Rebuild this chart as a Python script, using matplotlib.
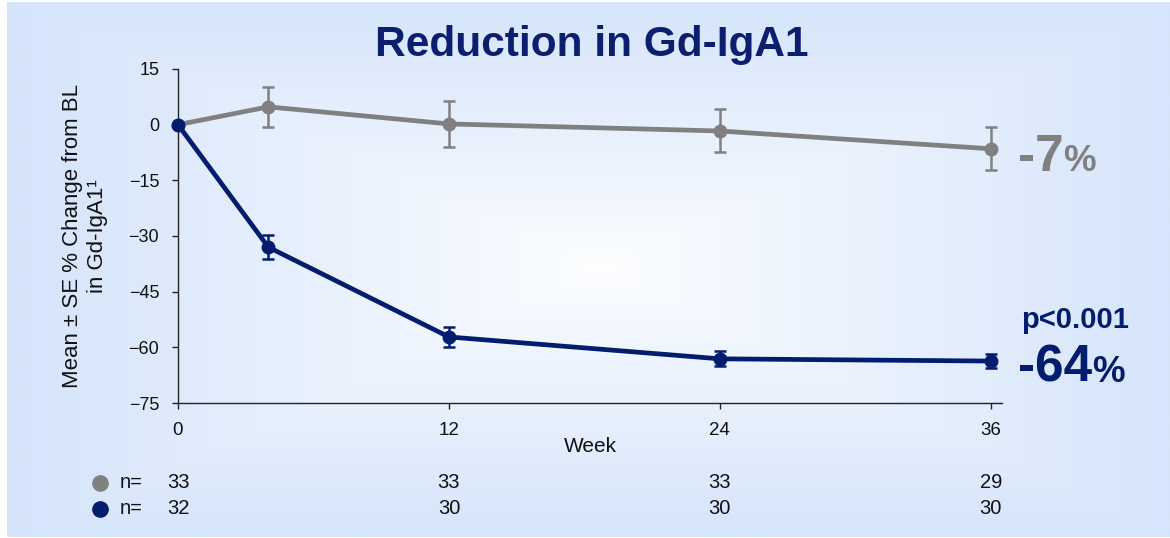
import numpy as np
import matplotlib
matplotlib.use('Agg')
import matplotlib.pyplot as plt
from matplotlib.lines import Line2D
from matplotlib.transforms import blended_transform_factory

# ---- data ----
weeks = [0, 4, 12, 24, 36]
placebo_mean = [0, 4.8, 0.2, -1.7, -6.5]
placebo_se = [0, 5.4, 6.2, 5.8, 5.8]
active_mean = [0, -33.0, -57.2, -63.1, -63.7]
active_se = [0, 3.3, 2.7, 2.0, 2.0]
n_weeks = [0, 12, 24, 36]
placebo_n = [33, 33, 33, 29]
active_n = [32, 30, 30, 30]
yticks = [15, 0, -15, -30, -45, -60, -75]
xticks = [0, 12, 24, 36]
title = "Reduction in Gd-IgA1"
placebo_label = "-7"
active_label = "-64"
p_label = "p<0.001"

GRAY = '#808080'
NAVY = '#021c6e'
TITLE = '#0b1f6e'
TXT = '#111111'

plt.rcParams['font.family'] = ['Liberation Sans', 'DejaVu Sans']

W, H = 1170, 538
fig = plt.figure(figsize=(W / 100, H / 100), dpi=100)
fig.patch.set_facecolor('white')

# ---- background gradient panel ----
bg = fig.add_axes([0, 0, 1, 1], zorder=-10)
bg.set_xlim(0, W)
bg.set_ylim(H, 0)
bg.axis('off')
px0, px1, py0, py1 = 7, 1170, 2, 537
xx, yy = np.meshgrid(np.linspace(px0, px1, 400), np.linspace(py0, py1, 200))
cx, cy = 600, 270
t = np.maximum(np.abs(xx - cx) / (px1 - cx), np.abs(yy - cy) / (py1 - cy))
t = np.clip(t, 0, 1) ** 0.9
center = np.array([253, 254, 255]) / 255
edge = np.array([214, 229, 251]) / 255
img = center[None, None, :] + (edge - center)[None, None, :] * t[:, :, None]
bg.imshow(img, extent=[px0, px1, py1, py0], aspect='auto', interpolation='bilinear')

# ---- main axes ----
ax = fig.add_axes([178 / W, 1 - 403 / H, (1002 - 178) / W, (403 - 69) / H])
ax.patch.set_alpha(0)
ax.set_xlim(0, 36.5)
ax.set_ylim(-75, 15)
for s in ['top', 'right']:
    ax.spines[s].set_visible(False)
for s in ['left', 'bottom']:
    ax.spines[s].set_color('#222222')
    ax.spines[s].set_linewidth(1.0)
ax.set_yticks(yticks)
ax.set_xticks(xticks)
ax.tick_params(axis='both', direction='out', length=4.5, width=1.0, color='#222222',
               labelcolor=TXT)
ax.tick_params(axis='y', pad=9, labelsize=13)
ax.tick_params(axis='x', pad=9, labelsize=13.5)

ax.plot(weeks, placebo_mean, color=GRAY, lw=3.4, marker='o', ms=9, clip_on=False, zorder=3)
ax.errorbar(weeks[1:], placebo_mean[1:], yerr=placebo_se[1:], fmt='none', ecolor=GRAY,
            elinewidth=1.8, capsize=4, capthick=1.8, zorder=3)
ax.plot(weeks, active_mean, color=NAVY, lw=3.4, marker='o', ms=9, clip_on=False, zorder=4)
ax.errorbar(weeks[1:], active_mean[1:], yerr=active_se[1:], fmt='none', ecolor=NAVY,
            elinewidth=1.8, capsize=4, capthick=1.8, zorder=4)

ax.set_xlabel('Week', fontsize=15, color=TXT)
ax.xaxis.set_label_coords(0.5, (403 - 447) / (403 - 69))
ax.xaxis.label.set_va('center')
ax.set_ylabel('Mean \u00b1 SE % Change from BL\nin Gd-IgA1\u00b9', fontsize=16,
              color=TXT, linespacing=1.2)
ax.yaxis.set_label_coords((85 - 178) / (1002 - 178), 0.5)
ax.yaxis.label.set_va('center')

# ---- title ----
fig.text(592 / W, 1 - 45 / H, title, ha='center', va='center', fontsize=30.5,
         fontweight='bold', color=TITLE)

# ---- end labels ----
fig.canvas.draw()
renderer = fig.canvas.get_renderer()

def big_pct(x_px, base_px, txt, color):
    t1 = fig.text(x_px / W, 1 - base_px / H, txt, ha='left', va='baseline',
                  fontsize=37, fontweight='bold', color=color)
    bb = t1.get_window_extent(renderer)
    fig.text(bb.x1 / W, 1 - base_px / H, '%', ha='left', va='baseline',
             fontsize=26.5, fontweight='bold', color=color)

big_pct(1018, 171, placebo_label, GRAY)
big_pct(1018, 382, active_label, NAVY)
fig.text(1075 / W, 1 - 328 / H, p_label, ha='center', va='baseline', fontsize=21,
         fontweight='bold', color=NAVY)

# ---- n table ----
tr = blended_transform_factory(ax.transData, fig.transFigure)
for yrow, col, ns in [(483, GRAY, placebo_n), (509, NAVY, active_n)]:
    yf = 1 - yrow / H
    fig.add_artist(Line2D([100 / W], [yf], marker='o', ms=11, color=col, lw=0,
                          transform=fig.transFigure))
    fig.text(120 / W, yf, 'n=', ha='left', va='center', fontsize=14.5, color=TXT)
    for wk, n in zip(n_weeks, ns):
        fig.text(wk, yf, str(n), transform=tr, ha='center', va='center', fontsize=14.5,
                 color=TXT)

fig.savefig('out.png', dpi=100)
